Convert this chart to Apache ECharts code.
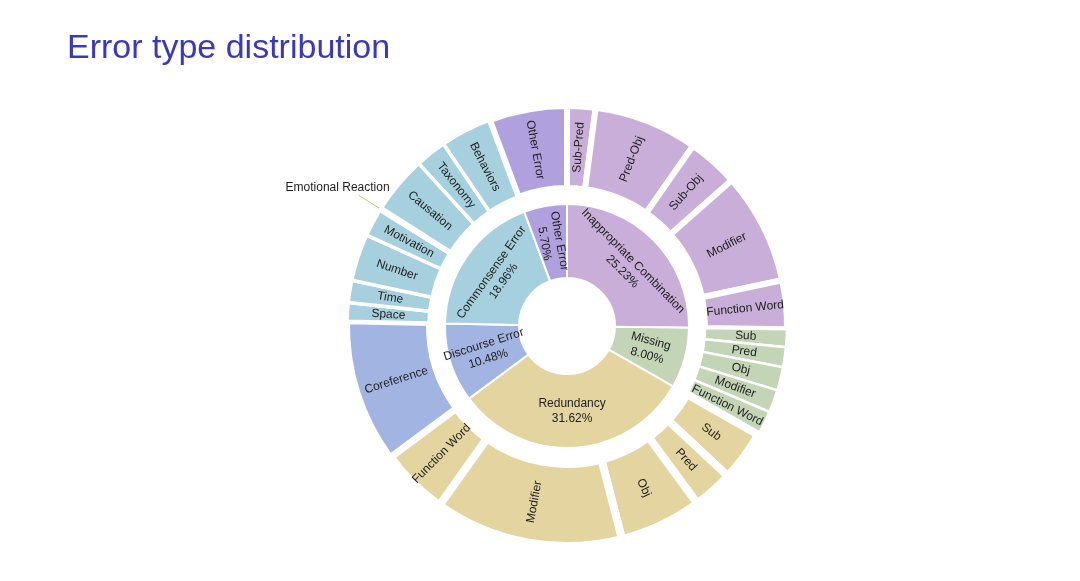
<!DOCTYPE html>
<html>
<head>
<meta charset="utf-8">
<script src="https://cdn.jsdelivr.net/npm/echarts@6/dist/echarts.min.js"></script>
<style>
html,body{margin:0;padding:0;background:#fff;}
#chart{width:1080px;height:581px;}
</style>
</head>
<body>
<div id="chart"></div>
<script>
// ---- data ----
const innerNames = ['Inappropriate Combination', 'Missing', 'Redundancy', 'Discourse Error', 'Commonsense Error', 'Other Error'];
const innerValues = [25.23, 8.00, 31.62, 10.48, 18.96, 5.70];

const inappropriateNames = ['Sub-Pred', 'Pred-Obj', 'Sub-Obj', 'Modifier', 'Function Word'];
const inappropriateValues = [2.08, 7.64, 3.75, 8.19, 3.57];

const missingNames = ['Sub', 'Pred', 'Obj', 'Modifier', 'Function Word'];
const missingValues = [1.30, 1.47, 1.72, 1.67, 1.84];

const redundancyNames = ['Sub', 'Pred', 'Obj', 'Modifier', 'Function Word'];
const redundancyValues = [3.72, 2.97, 6.06, 13.86, 5.01];

const discourseNames = ['Coreference'];
const discourseValues = [10.48];

const commonsenseNames = ['Space', 'Time', 'Number', 'Motivation', 'Emotional Reaction', 'Causation', 'Taxonomy', 'Behaviors'];
const commonsenseValues = [1.36, 1.64, 3.44, 2.03, 0.22, 4.21, 2.28, 3.78];

const otherNames = ['Other Error'];
const otherValues = [5.70];

const outsideLabelNames = ['Emotional Reaction'];

// ---- styles ----
const palette = ['#c8aed8', '#c4d5b7', '#e3d4a0', '#a2b4e2', '#a6d0dd', '#b0a0de'];
const childGap = [6, 2.5, 8, 6, 3.5, 6];
const innerRotate = {'Inappropriate Combination': 'tangential', 'Redundancy': 0, 'Commonsense Error': 'tangential'};

const childNameSets = [inappropriateNames, missingNames, redundancyNames, discourseNames, commonsenseNames, otherNames];
const childValueSets = [inappropriateValues, missingValues, redundancyValues, discourseValues, commonsenseValues, otherValues];

const sunData = innerNames.map((name, i) => {
  const node = {
    name: name,
    value: innerValues[i],
    itemStyle: {color: palette[i]},
    children: childNameSets[i].map((cn, j) => ({
      name: cn,
      value: childValueSets[i][j],
      itemStyle: {color: palette[i], borderWidth: childGap[i], borderColor: '#fff'},
      label: {show: outsideLabelNames.indexOf(cn) < 0}
    }))
  };
  if (innerRotate[name] !== undefined) node.label = {rotate: innerRotate[name]};
  return node;
});

const pieData = [];
childNameSets.forEach((names, i) => {
  names.forEach((cn, j) => {
    const show = outsideLabelNames.indexOf(cn) >= 0;
    pieData.push({
      name: cn,
      value: childValueSets[i][j],
      label: {show: show},
      labelLine: {show: show}
    });
  });
});

const chart = echarts.init(document.getElementById('chart'), null, {renderer: 'canvas'});
chart.setOption({
  backgroundColor: '#fff',
  animation: false,
  title: {
    text: 'Error type distribution',
    left: 67,
    top: 32,
    padding: 0,
    textStyle: {fontSize: 34, fontWeight: 'normal', color: '#3a3ab4', fontFamily: 'Liberation Sans'}
  },
  series: [
    {
      type: 'sunburst',
      center: [567, 326],
      sort: null,
      nodeClick: false,
      startAngle: 90,
      emphasis: {disabled: true},
      data: sunData,
      label: {
        rotate: 'radial',
        color: '#1e1e1e',
        fontSize: 12,
        fontFamily: 'Liberation Sans',
        lineHeight: 15
      },
      levels: [
        {},
        {
          r0: 48, r: 122,
          itemStyle: {borderWidth: 2, borderColor: '#fff'},
          label: {
            formatter: p => p.name + '\n' + p.value.toFixed(2) + '%'
          }
        },
        {
          r0: 138, r: 220,
          label: {formatter: '{b}'}
        }
      ]
    },
    {
      type: 'pie',
      center: [567, 326],
      radius: [138, 220],
      startAngle: 90,
      clockwise: true,
      silent: true,
      avoidLabelOverlap: false,
      itemStyle: {color: 'rgba(0,0,0,0)'},
      label: {
        position: 'outside',
        color: '#1e1e1e',
        fontSize: 12,
        fontFamily: 'Liberation Sans'
      },
      labelLine: {
        length: 26,
        length2: 0,
        lineStyle: {color: '#d4c27e', width: 1}
      },
      labelLayout: {dx: 36, dy: -8},
      emphasis: {disabled: true},
      data: pieData
    }
  ]
});
</script>
</body>
</html>
